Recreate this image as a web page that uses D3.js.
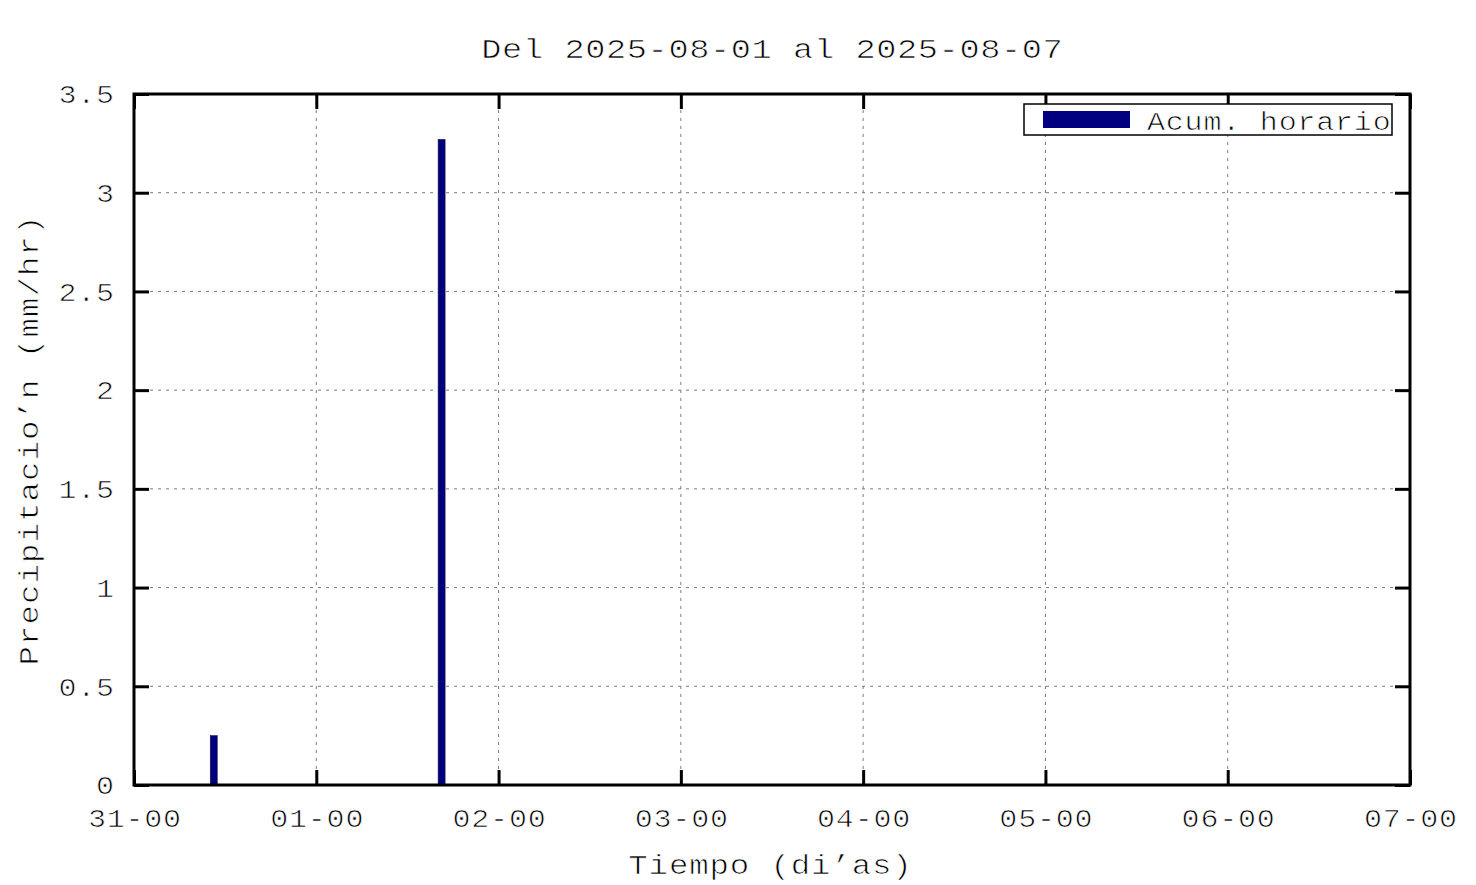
<!DOCTYPE html>
<html>
<head>
<meta charset="utf-8">
<script src="https://cdn.jsdelivr.net/npm/d3@7"></script>
<style>
  html, body { margin: 0; padding: 0; background: #fff; }
  svg { display: block; }
  text { font-family: "Liberation Mono", "DejaVu Sans Mono", monospace; fill: #000;
         stroke: #fff; stroke-width: 0.7px; paint-order: fill stroke; }
</style>
</head>
<body>
<svg id="chart" width="1476" height="885"></svg>
<script>
// ---- data ----
const titleText = "Del 2025-08-01 al 2025-08-07";
const xLabelText = "Tiempo (di’as)";
const yLabelText = "Precipitacio’n (mm/hr)";
const legendLabel = "Acum. horario";
const barTimes = ["2025-07-31T10:00", "2025-08-01T16:00"];
const barValues = [0.25, 3.27];
const xTickTimes = ["2025-07-31T00:00", "2025-08-01T00:00", "2025-08-02T00:00", "2025-08-03T00:00",
                    "2025-08-04T00:00", "2025-08-05T00:00", "2025-08-06T00:00", "2025-08-07T00:00"];
const xTickLabels = ["31-00", "01-00", "02-00", "03-00", "04-00", "05-00", "06-00", "07-00"];
const yTicks = [0, 0.5, 1, 1.5, 2, 2.5, 3, 3.5];
const yTickLabels = ["0", "0.5", "1", "1.5", "2", "2.5", "3", "3.5"];

(function () {
// ---- layout ----
const pL = 134, pR = 1410, pT = 94, pB = 785;
const SX = 1.2; // horizontal glyph stretch to mimic wide Courier glyphs
const parse = d3.utcParse("%Y-%m-%dT%H:%M");
const svg = d3.select("#chart");

const x = d3.scaleUtc()
  .domain([parse(xTickTimes[0]), parse(xTickTimes[xTickTimes.length - 1])])
  .range([pL, pR]);
const y = d3.scaleLinear().domain([0, 3.5]).range([pB, pT]);

function label(parent, tx, ty, str, fs, ls, anchor, rot) {
  const g = parent.append("g")
    .attr("transform", `translate(${tx},${ty})` + (rot ? ` rotate(${rot})` : "") + ` scale(${SX},1)`);
  g.append("text")
    .attr("x", anchor === "end" ? ls : (anchor === "middle" ? ls / 2 : 0))
    .attr("text-anchor", anchor).attr("font-size", fs).attr("letter-spacing", ls)
    .text(str);
  return g;
}

// grid
const grid = svg.append("g").attr("class", "grid");
xTickTimes.slice(1, -1).forEach(t => {
  grid.append("line")
    .attr("x1", x(parse(t))).attr("x2", x(parse(t)))
    .attr("y1", pB).attr("y2", pT)
    .attr("stroke", "#7a7a7a").attr("stroke-width", 1).attr("stroke-dasharray", "3,5");
});
yTicks.slice(1, -1).forEach(v => {
  grid.append("line")
    .attr("x1", pL).attr("x2", pR)
    .attr("y1", y(v)).attr("y2", y(v))
    .attr("stroke", "#7a7a7a").attr("stroke-width", 1).attr("stroke-dasharray", "3,5");
});

// bars (hourly boxes)
const hour = 3600 * 1000;
const bars = barTimes.map((t, i) => ({ t: parse(t), v: barValues[i] }));
svg.append("g").selectAll("rect").data(bars).join("rect")
  .attr("x", d => x(d.t) + 0.3)
  .attr("width", d => x(new Date(+d.t + hour)) - x(d.t) - 0.6)
  .attr("y", d => y(d.v))
  .attr("height", d => y(0) - y(d.v))
  .attr("fill", "#000080")
  .attr("stroke", "#1a1a40").attr("stroke-width", 0.6);

// axes (ticks inward, mirrored)
const tickLen = 15;
const bottomAxis = d3.axisBottom(x).tickValues(xTickTimes.map(parse)).tickSizeInner(-tickLen).tickSizeOuter(0)
  .tickFormat((d, i) => xTickLabels[i]);
const topAxis = d3.axisTop(x).tickValues(xTickTimes.map(parse)).tickSizeInner(-tickLen).tickSizeOuter(0).tickFormat("");
const leftAxis = d3.axisLeft(y).tickValues(yTicks).tickSizeInner(-tickLen).tickSizeOuter(0)
  .tickFormat((d, i) => yTickLabels[i]);
const rightAxis = d3.axisRight(y).tickValues(yTicks).tickSizeInner(-tickLen).tickSizeOuter(0).tickFormat("");

function styleAxis(g) {
  g.select(".domain").remove();
  g.selectAll(".tick line").attr("stroke", "#000").attr("stroke-width", 3);
  g.selectAll("text").attr("font-family", "Liberation Mono").attr("font-size", 25).attr("fill", "#000");
}
const tls = 0.67;
const gb = svg.append("g").attr("transform", `translate(0,${pB})`).call(bottomAxis).call(styleAxis);
gb.selectAll("text").attr("y", 42).attr("dy", 0).attr("letter-spacing", tls).attr("x", tls / 2)
  .attr("transform", `scale(${SX},1)`);
svg.append("g").attr("transform", `translate(0,${pT})`).call(topAxis).call(styleAxis);
const gl = svg.append("g").attr("transform", `translate(${pL},0)`).call(leftAxis).call(styleAxis);
gl.selectAll("text").attr("x", -20 / SX + tls).attr("dy", "0.35em").attr("letter-spacing", tls)
  .attr("transform", `scale(${SX},1)`);
svg.append("g").attr("transform", `translate(${pR},0)`).call(rightAxis).call(styleAxis);

// border
svg.append("rect")
  .attr("x", pL).attr("y", pT).attr("width", pR - pL).attr("height", pB - pT)
  .attr("fill", "none").attr("stroke", "#000").attr("stroke-width", 3);

// title
label(svg, (pL + pR) / 2, 58, titleText, 28, 0.53, "middle");

// x label
label(svg, (pL + pR) / 2 - 2, 874, xLabelText, 27, 0.72, "middle");

// y label
label(svg, 38, (pT + pB) / 2 + 1, yLabelText, 27, 0.88, "middle", -90);

// legend
const lg = svg.append("g");
lg.append("rect").attr("x", 1024).attr("y", 104).attr("width", 368).attr("height", 31)
  .attr("fill", "#fff").attr("stroke", "#000").attr("stroke-width", 1.5);
lg.append("rect").attr("x", 1043).attr("y", 111).attr("width", 87).attr("height", 17)
  .attr("fill", "#000080");
label(lg, 1147, 130, legendLabel, 25, 0.67, "start");
})();
</script>
</body>
</html>
